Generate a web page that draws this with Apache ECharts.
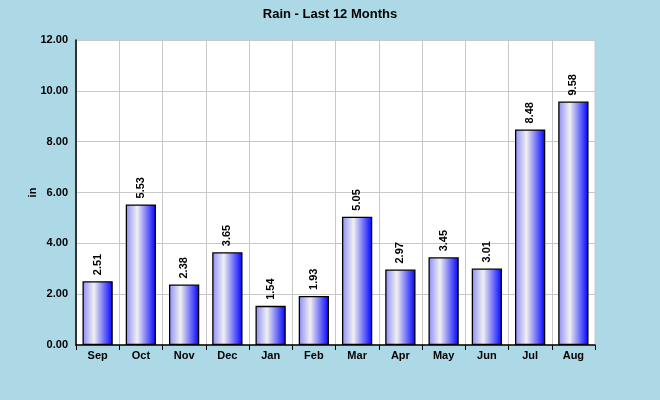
<!DOCTYPE html>
<html>
<head>
<meta charset="utf-8">
<script src="https://cdn.jsdelivr.net/npm/echarts@6/dist/echarts.min.js"></script>
<style>
html, body { margin: 0; padding: 0; background: #add8e6; }
#chart { width: 660px; height: 400px; }
</style>
</head>
<body>
<div id="chart"></div>
<script>
var months = ['Sep', 'Oct', 'Nov', 'Dec', 'Jan', 'Feb', 'Mar', 'Apr', 'May', 'Jun', 'Jul', 'Aug'];
var rain = [2.51, 5.53, 2.38, 3.65, 1.54, 1.93, 5.05, 2.97, 3.45, 3.01, 8.48, 9.58];

var myChart = echarts.init(document.getElementById('chart'));
var font = 'Liberation Sans, Arial, sans-serif';
var option = {
    backgroundColor: '#add8e6',
    animation: false,
    title: {
        text: 'Rain - Last 12 Months',
        left: 'center',
        top: 3,
        textStyle: { fontFamily: font, fontSize: 13, fontWeight: 'bold', color: '#000' }
    },
    grid: { left: 76, right: 65, top: 40, bottom: 55, show: true, backgroundColor: '#fff', borderColor: '#c8c8c8', borderWidth: 1 },
    xAxis: {
        type: 'category',
        data: months,
        axisLine: { lineStyle: { color: '#000', width: 1.5 } },
        axisTick: { show: true, length: 5, inside: false, lineStyle: { color: '#000' } },
        splitLine: { show: true, lineStyle: { color: '#c8c8c8' } },
        axisLabel: { color: '#000', fontFamily: font, fontSize: 11, fontWeight: 'bold', margin: 5 }
    },
    yAxis: {
        type: 'value',
        min: 0,
        max: 12,
        interval: 2,
        name: 'in',
        nameLocation: 'middle',
        nameGap: 38,
        nameMoveOverlap: false,
        nameTextStyle: { color: '#000', fontFamily: font, fontSize: 11, fontWeight: 'bold' },
        axisLine: { show: true, lineStyle: { color: '#000', width: 1.5 } },
        axisTick: { show: false },
        splitLine: { lineStyle: { color: '#c8c8c8' } },
        axisLabel: {
            color: '#000', fontFamily: font, fontSize: 11, fontWeight: 'bold', margin: 8,
            formatter: function (v) { return v.toFixed(2); }
        }
    },
    series: [{
        type: 'bar',
        data: rain,
        barWidth: '70%',
        itemStyle: {
            borderColor: '#000',
            borderWidth: 1.3,
            color: new echarts.graphic.LinearGradient(0, 0, 1, 0, [
                { offset: 0, color: '#8c8cf8' },
                { offset: 0.38, color: '#f0f0f0' },
                { offset: 1, color: '#0000ff' }
            ])
        },
        label: {
            show: true,
            position: 'top',
            rotate: 90,
            align: 'left',
            verticalAlign: 'middle',
            distance: 6,
            color: '#000',
            fontFamily: font,
            fontSize: 11,
            fontWeight: 'bold',
            formatter: function (p) { return p.value.toFixed(2); }
        }
    }]
};
myChart.setOption(option);
</script>
</body>
</html>
